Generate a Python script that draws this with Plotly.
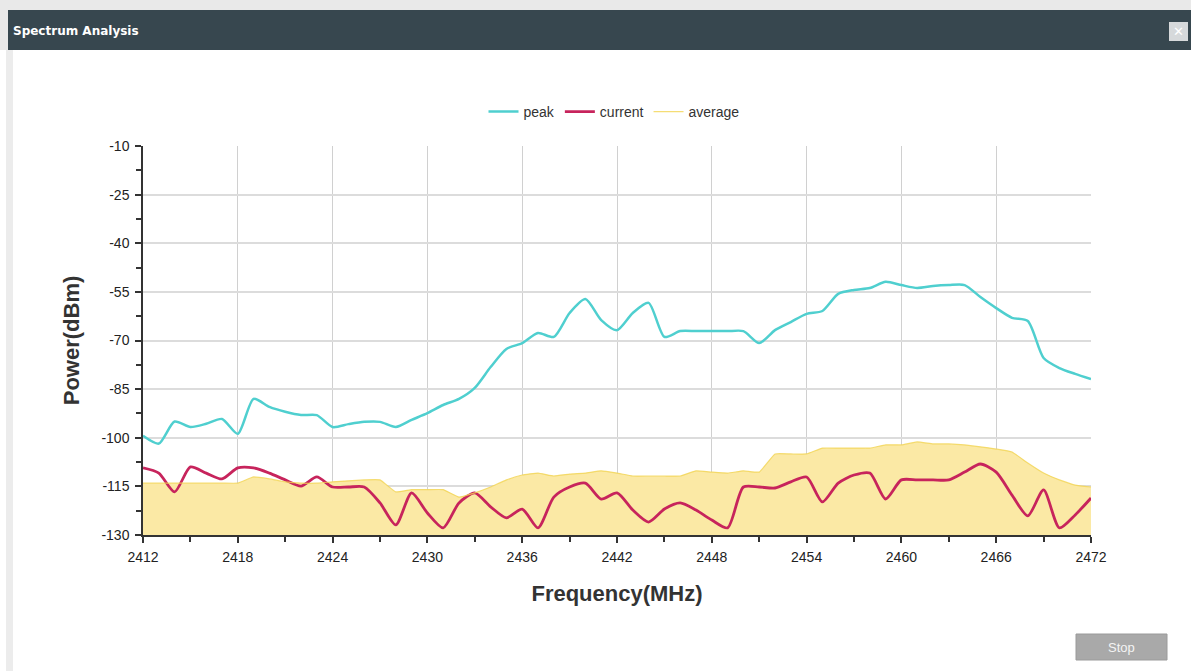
import plotly.graph_objects as go

freq = list(range(2412, 2473))

peak = [-99.4, -101.8, -95, -96.7, -95.7, -94.2, -98.8, -88, -90.5, -92,
        -93, -93, -96.7, -95.8, -95.1, -95.1, -96.7, -94.5, -92.4, -89.9,
        -88, -84.6, -78.2, -72.6, -70.8, -67.7, -68.9, -61.5, -57.2, -63.7,
        -66.8, -61.5, -58.4, -68.9, -67.1, -67.1, -67.1, -67.1, -67.1, -70.8,
        -66.8, -64.3, -61.8, -60.9, -55.6, -54.4, -53.8, -51.9, -52.9, -53.8,
        -53.2, -52.9, -52.9, -56.6, -60, -63, -64, -75.4, -78.5, -80.3, -81.9]

current = [-109.3, -110.9, -116.7, -109, -110.9, -112.7, -109.3, -109.3, -110.9, -113,
           -114.9, -112.1, -115.2, -115.2, -115.2, -120.1, -126.9, -117, -123.2, -127.8,
           -120.1, -117, -121.3, -124.7, -122, -127.8, -118.3, -115.2, -114, -118.9,
           -117, -122.3, -126, -122, -120.1, -122.3, -125.4, -127.8, -115.2, -115.2,
           -115.5, -113.6, -112.1, -119.8, -114, -111.5, -110.9, -118.9, -113, -113,
           -113, -113, -110.6, -108.1, -110.6, -117.7, -124.1, -116.1, -127.8, -123.8, -118.6]

average = [-114, -114, -114, -114, -114, -114, -114, -112.1, -112.7, -113.6,
           -114, -114, -113.6, -113.3, -113, -113, -116.7, -116, -116, -116,
           -118.3, -117, -115.2, -113, -111.5, -110.9, -111.8, -111.2, -110.9, -110.2,
           -110.9, -111.8, -111.8, -111.8, -111.8, -110.2, -110.6, -110.9, -110.2, -110.6,
           -105, -105, -105, -103.2, -103.2, -103.2, -103.2, -102.2, -102.2, -101.3,
           -101.9, -101.9, -102.2, -102.8, -103.5, -104.4, -107.8, -110.9, -113, -114.6, -115.2]

x_ticks = list(range(2412, 2473, 6))
y_ticks = list(range(-130, -9, 15))
y_min, y_max = -130, -10

W, H = 1191, 671
L, R, T, B = 143, 1091, 146, 535


def fx(px):
    return (px - L) / (R - L)


def fy(py):
    return (B - py) / (B - T)


FONT = "Liberation Sans, Arial, sans-serif"
fig = go.Figure()

# baseline for the filled area
fig.add_trace(go.Scatter(x=freq, y=[y_min] * len(freq), mode="lines",
                         line=dict(width=0, color="rgba(0,0,0,0)"),
                         showlegend=False, hoverinfo="skip"))
fig.add_trace(go.Scatter(x=freq, y=average, mode="lines", fill="tonexty",
                         fillcolor="#fbe9a5", line=dict(width=0, color="#f8e08a", shape="spline", smoothing=0.3),
                         showlegend=False, legendgroup="avg"))
fig.add_trace(go.Scatter(x=freq, y=peak, mode="lines", name="peak",
                         line=dict(color="#4fcfcf", width=2.5, shape="spline", smoothing=0.7),
                         legendrank=1))
fig.add_trace(go.Scatter(x=freq, y=current, mode="lines", name="current",
                         line=dict(color="#c7245c", width=2.8, shape="spline", smoothing=0.7),
                         legendrank=2))
fig.add_trace(go.Scatter(x=freq, y=average, mode="lines", name="average",
                         line=dict(color="#f3d553", width=1.2, shape="spline", smoothing=0.3),
                         opacity=0.8, legendgroup="avg", legendrank=3, hoverinfo="skip"))

shapes = [
    # outer gray frame
    dict(type="rect", xref="paper", yref="paper", x0=fx(0), x1=fx(W), y0=fy(0), y1=fy(10),
         fillcolor="#e9e9e9", line=dict(width=0), layer="below"),
    dict(type="rect", xref="paper", yref="paper", x0=fx(0), x1=fx(8), y0=fy(0), y1=fy(50),
         fillcolor="#e9e9e9", line=dict(width=0), layer="below"),
    dict(type="rect", xref="paper", yref="paper", x0=fx(6), x1=fx(13), y0=fy(50), y1=fy(H),
         fillcolor="#ececec", line=dict(width=0), layer="below"),
    # title bar
    dict(type="rect", xref="paper", yref="paper", x0=fx(8), x1=fx(W), y0=fy(10), y1=fy(50),
         fillcolor="#37474f", line=dict(width=0), layer="below"),
    # close button
    dict(type="rect", xref="paper", yref="paper", x0=fx(1169), x1=fx(1188), y0=fy(22), y1=fy(41),
         fillcolor="#d6d9db", line=dict(width=0), layer="above"),
    # stop button
    dict(type="rect", xref="paper", yref="paper", x0=fx(1076), x1=fx(1167), y0=fy(634), y1=fy(660),
         fillcolor="#a9a9a9", line=dict(width=1, color="#9a9a9a"), layer="above"),
]

annotations = [
    dict(text="<b>Spectrum Analysis</b>", xref="paper", yref="paper", x=fx(11), y=fy(31),
         xanchor="left", yanchor="middle", showarrow=False,
         font=dict(family="DejaVu Sans, Verdana, sans-serif", size=12, color="white")),
    dict(text="✕", xref="paper", yref="paper", x=fx(1178.5), y=fy(31.5),
         xanchor="center", yanchor="middle", showarrow=False,
         font=dict(family="DejaVu Sans", size=13, color="white")),
    dict(text="Stop", xref="paper", yref="paper", x=fx(1121.5), y=fy(647),
         xanchor="center", yanchor="middle", showarrow=False,
         font=dict(family=FONT, size=13, color="#f4f4f4")),
]

fig.update_layout(
    width=W, height=H,
    margin=dict(l=L, r=W - R, t=T, b=H - B, pad=0),
    paper_bgcolor="white", plot_bgcolor="white",
    shapes=shapes, annotations=annotations,
    font=dict(family=FONT, size=14, color="#333"),
    legend=dict(orientation="h", x=fx(614), y=fy(112), xanchor="center", yanchor="middle",
                font=dict(family=FONT, size=14, color="#333"), itemwidth=30,
                bgcolor="rgba(0,0,0,0)", traceorder="normal"),
    xaxis=dict(range=[freq[0], freq[-1]], tickvals=x_ticks, ticktext=[str(v) for v in x_ticks],
               showgrid=True, gridcolor="#d0d0d0", gridwidth=1,
               showline=True, linecolor="#333", linewidth=1.5,
               ticks="outside", ticklen=6, tickcolor="#333", tickwidth=1.5,
               minor=dict(dtick=3, tick0=2412, ticks="outside", ticklen=5, tickcolor="#333", showgrid=False),
               tickfont=dict(size=14, color="#222"), zeroline=False, ticklabelstandoff=2,
               title=dict(text="<b>Frequency(MHz)</b>", font=dict(size=22, color="#333"), standoff=22)),
    yaxis=dict(range=[y_min, y_max], tickvals=y_ticks, ticktext=[str(v) for v in y_ticks],
               showgrid=True, gridcolor="#dcdcdc", gridwidth=1.5,
               showline=True, linecolor="#333", linewidth=1.5,
               ticks="outside", ticklen=6, tickcolor="#333", tickwidth=1.5,
               minor=dict(dtick=7.5, tick0=-130, ticks="outside", ticklen=5, tickcolor="#333", showgrid=False),
               tickfont=dict(size=14, color="#222"), zeroline=False, ticklabelstandoff=3,
               title=dict(text="<b>Power(dBm)</b>", font=dict(size=22, color="#333"), standoff=16)),
)

fig.write_html("out.html", config={"displayModeBar": False},
               post_script="document.body.style.margin='0';document.body.style.overflow='hidden';")
